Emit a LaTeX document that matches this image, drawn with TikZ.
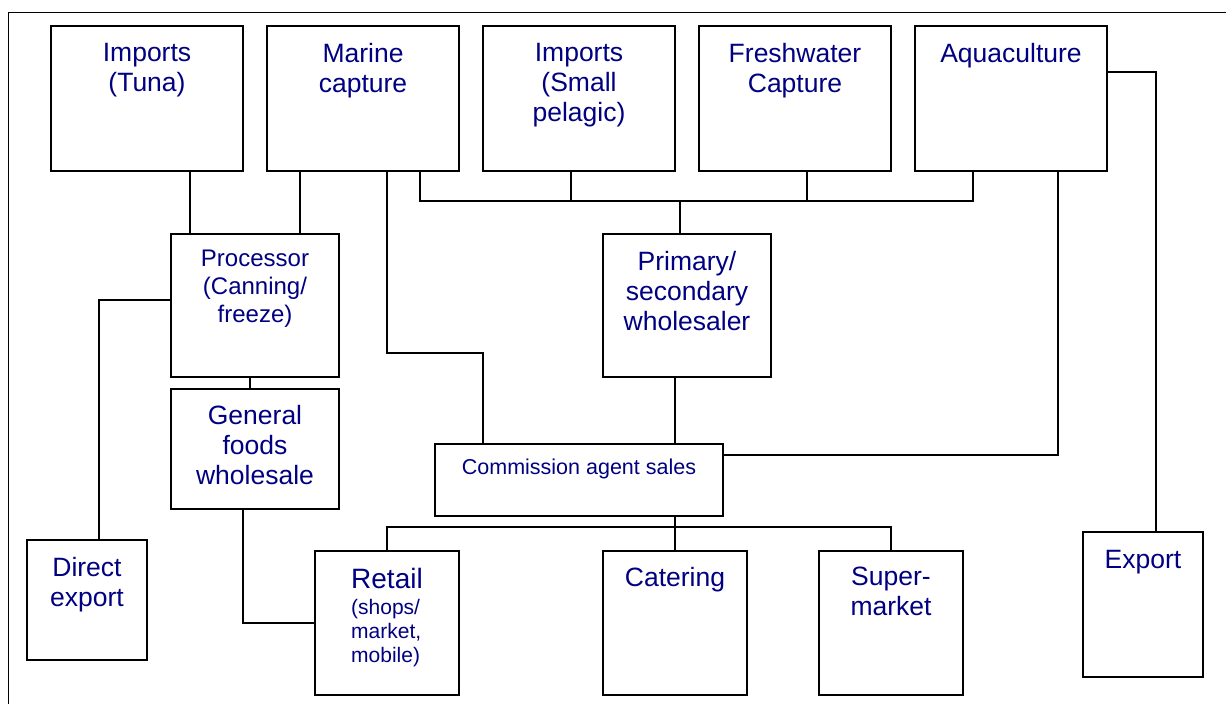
\documentclass[tikz,border=0pt]{standalone}
\usepackage{fontspec}
\setmainfont{Liberation Sans}
\definecolor{navy}{RGB}{0,0,128}
\begin{document}
\begin{tikzpicture}[x=1pt, y=-1pt,
    box/.style={draw, line width=1.6pt, inner sep=0pt, outer sep=0pt},
    lbl/.style={anchor=north, inner sep=0pt, align=center, text=navy,
      font=\fontsize{26.5}{30}\selectfont}]
    \useasboundingbox (0,0) rectangle (1226,704);
    \draw[line width=1pt] (8,704) -- (8,12) -- (1226,12);

    % sources
    \begin{scope}[every node/.style={box, minimum width=192, minimum height=145}]
      \node (tuna) at (147,98.5) {};
      \node (marine) at (363,98.5) {};
      \node (pelagic) at (579,98.5) {};
      \node (fresh) at (795,98.5) {};
      \node (aqua) at (1011,98.5) {};
    \end{scope}
    \begin{scope}[every node/.style={box, minimum width=168}]
      \node [minimum height=143] (proc) at (255,305.5) {};
      \node [minimum height=120] (gen) at (255,449) {};
      \node [minimum height=143] (prim) at (687,305.5) {};
    \end{scope}
    \node [box, minimum width=288, minimum height=72] (comm) at (579,480) {};
    \begin{scope}[every node/.style={box, minimum width=144, minimum height=144}]
      \node (retail) at (387,623) {};
      \node (cater) at (675,623) {};
      \node (super) at (891,623) {};
    \end{scope}
    \node [box, minimum width=120, minimum height=120] (direct) at (87,600) {};
    \node [box, minimum width=120, minimum height=145] (export) at (1143,604.5) {};

    % labels
    \node [lbl] (tuna-t) at ([yshift=-17]tuna.north) {Imports\\(Tuna)};
    \node [lbl] (marine-t) at ([yshift=-17]marine.north) {Marine\\capture};
    \node [lbl] (pelagic-t) at ([yshift=-17]pelagic.north) {Imports\\(Small\\pelagic)};
    \node [lbl] (fresh-t) at ([yshift=-17]fresh.north) {Freshwater\\Capture};
    \node [lbl] (aqua-t) at ([yshift=-17]aqua.north) {Aquaculture};
    \node [lbl, font=\fontsize{24}{28}\selectfont] (proc-t) at ([yshift=-16]proc.north)
      {Processor\\(Canning/\\freeze)};
    \node [lbl] (gen-t) at ([yshift=-16]gen.north) {General\\foods\\wholesale};
    \node [lbl] (prim-t) at ([yshift=-17]prim.north) {Primary/\\secondary\\wholesaler};
    \node [lbl, font=\fontsize{21.5}{25}\selectfont] (comm-t) at ([yshift=-15]comm.north)
      {Commission agent sales};
    \node [lbl, align=left, font=\fontsize{21}{24}\selectfont] (retail-t) at ([yshift=-17]retail.north)
      {{\fontsize{28}{30}\selectfont Retail}\\[2pt](shops/\\market,\\mobile)};
    \node [lbl] (cater-t) at ([yshift=-16]cater.north) {Catering};
    \node [lbl] (super-t) at ([yshift=-16]super.north) {Super-\\market};
    \node [lbl] (direct-t) at ([yshift=-17]direct.north) {Direct\\export};
    \node [lbl] (export-t) at ([yshift=-18]export.north) {Export};

    % connectors
    \coordinate (bus) at (0,201);
    \coordinate (lowbus) at (0,527);
    \begin{scope}[line width=1.4pt]
      \draw ([xshift=43]tuna.south) -- ([xshift=43]tuna.south |- proc.north);
      \draw ([xshift=-63]marine.south) -- ([xshift=-63]marine.south |- proc.north);
      \draw ([xshift=24]marine.south) -- ++(0,182) -| ([xshift=-96]comm.north);
      \draw ([xshift=57]marine.south) |- ([xshift=-38]aqua.south |- bus)
        -- ([xshift=-38]aqua.south);
      \draw ([xshift=-8]pelagic.south) -- ([xshift=-8]pelagic.south |- bus);
      \draw ([xshift=12]fresh.south) -- ([xshift=12]fresh.south |- bus);
      \draw ([xshift=-7]prim.north) -- ([xshift=-7]prim.north |- bus);
      \draw ([xshift=-12]prim.south) -- ([xshift=-12]prim.south |- comm.north);
      \draw ([xshift=47]aqua.south) |- ([yshift=25]comm.east);
      \draw ([yshift=26.5]aqua.east) -| ([xshift=13]export.north);
      \draw ([xshift=-5]proc.south) -- ([xshift=-5]proc.south |- gen.north);
      \draw ([yshift=5.5]proc.west) -| ([xshift=12]direct.north);
      \draw ([xshift=-12]gen.south) |- (retail.west);
      \draw (retail.north) |- (lowbus -| super.north) -- (super.north);
      \draw ([xshift=96]comm.south) -- (cater.north);
    \end{scope}
  \end{tikzpicture}
\end{document}
